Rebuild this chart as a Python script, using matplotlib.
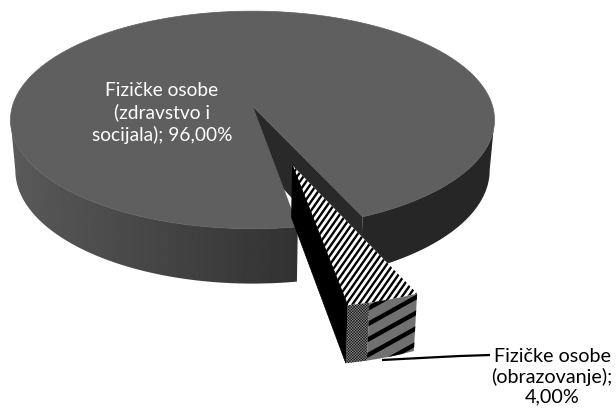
import numpy as np
import matplotlib
matplotlib.use("Agg")
import matplotlib.pyplot as plt
from matplotlib.patches import Polygon
from matplotlib.collections import LineCollection

labels = ["Fizičke osobe\n(zdravstvo i\nsocijala); 96,00%", "Fizičke osobe\n(obrazovanje);\n4,00%"]
values = [96.0, 4.0]

plt.rcParams["font.family"] = ["Lato", "DejaVu Sans"]

W, H = 616, 410
fig = plt.figure(figsize=(W / 100, H / 100), dpi=100)
ax = fig.add_axes([0, 0, 1, 1])
ax.set_xlim(0, W)
ax.set_ylim(H, 0)
ax.axis("off")

# slice angles on the disc, the small slice faces the viewer
small = values[1] / sum(values) * 360
small_start = -80.5
small_end = small_start + small
persp = 0.128
tangent = np.degrees(np.arcsin(persp))  # where the disc looks widest


def proj(theta, r=1.0, level=0.0, off=(0.0, 0.0)):
    # flat disc to picture, with a bit of perspective
    t = np.radians(theta)
    u = r * np.cos(t) + off[0]
    v = r * np.sin(t) + off[1]
    w = 1 + persp * v
    shrink = 1 - 0.02 * level
    x = 252.5 + 240 * u * shrink / w
    y = 107 - 107 * v * shrink / w + 50 * level / w
    return np.column_stack([np.atleast_1d(x), np.atleast_1d(y)])


def grey(g):
    return (g / 255, g / 255, g / 255)


def stripes(poly, slope, spacing, lw, zorder):
    # diagonal stripes cut to the shape of poly
    tan = np.tan(np.radians(slope))
    x0, x1 = poly[:, 0].min(), poly[:, 0].max()
    y0, y1 = poly[:, 1].min(), poly[:, 1].max()
    c0 = x0 + (y0 - y1) / tan
    segs = [[(c, y1), (c + (y1 - y0) / tan, y0)] for c in np.arange(c0, x1 + spacing, spacing)]
    lc = LineCollection(segs, colors="black", linewidths=lw, zorder=zorder)
    ax.add_collection(lc)
    lc.set_clip_path(Polygon(poly, closed=True, transform=ax.transData))


apex_top = proj(0, 0)
apex_bot = proj(0, 0, 1)

# wall of the cut and outer side on the right
ax.add_patch(Polygon(np.vstack([apex_top, proj(small_end), proj(small_end, 1, 1), apex_bot]),
                     closed=True, fc=grey(41), ec="none", zorder=1))
a_r = np.linspace(small_end, -tangent, 100)
ax.add_patch(Polygon(np.vstack([proj(a_r), proj(a_r[::-1], 1, 1)]),
                     closed=True, fc=grey(38), ec="none", zorder=1))

# outer side on the left, shaded from left to right
a_l = np.linspace(-180 + tangent, small_start, 150)
left_side = Polygon(np.vstack([proj(a_l), proj(a_l[::-1], 1, 1)]), closed=True, fc="none", ec="none",
                    transform=ax.transData)
ax.add_patch(left_side)
shade = np.linspace(90, 50, 256).reshape(1, -1)
im = ax.imshow(shade, cmap="gray", vmin=0, vmax=255, extent=[8, 298, 290, 115], aspect="auto", zorder=1)
im.set_clip_path(left_side)
ax.set_xlim(0, W)
ax.set_ylim(H, 0)

# top of the main slice
arc = np.linspace(small_end, small_start + 360, 400)
ax.add_patch(Polygon(np.vstack([apex_top, proj(arc)]), closed=True, fc=grey(95), ec=grey(95), lw=0.5, zorder=2))

# the pulled out slice
mid_small = np.radians((small_start + small_end) / 2)
off = (0.54 * np.cos(mid_small), 0.54 * np.sin(mid_small))
arc2 = np.linspace(small_start, small_end, 30)
split = small_start + small * 0.3

s_apex_top = proj(0, 0, 0, off)
s_apex_bot = proj(0, 0, 1, off)

s_top = np.vstack([s_apex_top, proj(arc2, 1, 0, off)])
ax.add_patch(Polygon(s_top, closed=True, fc="white", ec="none", zorder=3))
stripes(s_top, 55, 6.3, 1.7, 3)

ax.add_patch(Polygon(np.vstack([s_apex_top, proj(small_start, 1, 0, off), proj(small_start, 1, 1, off), s_apex_bot]),
                     closed=True, fc="black", ec="black", lw=0.5, zorder=4))

a_left = np.linspace(small_start, split, 10)
a_right = np.linspace(split, small_end, 20)
plt.rcParams["hatch.linewidth"] = 0.3
ax.add_patch(Polygon(np.vstack([proj(a_left, 1, 0, off), proj(a_left[::-1], 1, 1, off)]), closed=True,
                     fc=grey(135), ec="black", lw=0, hatch="xxxxxxxxxxxx", zorder=4))
front = np.vstack([proj(a_right, 1, 0, off), proj(a_right[::-1], 1, 1, off)])
ax.add_patch(Polygon(front, closed=True, fc=grey(112), ec="none", zorder=4))
stripes(front, 29, 28, 3.2, 5)

# leader line and labels
ax.plot([382, 440, 460, 490], [361, 358, 357, 356], color="black", lw=1.6, zorder=6, solid_capstyle="butt")
ax.text(162, 113, labels[0], color="white", fontsize=13.8, ha="center", va="center", linespacing=1.27, zorder=7)
ax.text(552, 377, labels[1], color="black", fontsize=14.2, ha="center", va="center", linespacing=1.17, zorder=7)

fig.savefig("out.png", dpi=100)
